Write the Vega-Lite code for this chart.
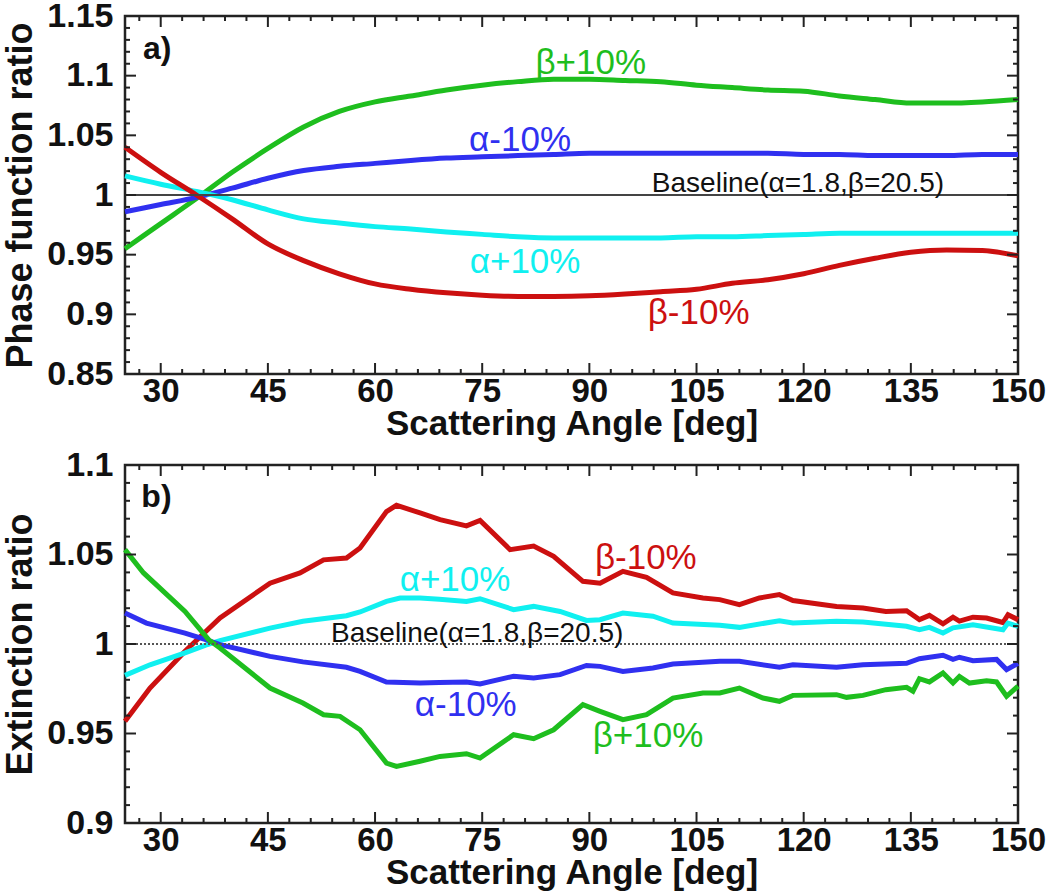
{
  "$schema": "https://vega.github.io/schema/vega-lite/v6.json",
  "padding": {"left": 1, "top": -3, "right": 0, "bottom": 0},
  "spacing": 91,
  "bounds": "flush",
  "config": {
    "view": {"stroke": "#222", "strokeWidth": 2.5},
    "font": "Liberation Sans",
    "axis": {
      "labelFont": "Liberation Sans", "titleFont": "Liberation Sans",
      "labelFontWeight": "bold", "titleFontWeight": "bold",
      "labelColor": "#111", "titleColor": "#111",
      "labelFontSize": 34, "titleFontSize": 36,
      "grid": false, "domain": false, "ticks": false
    },
    "axisX": {"labelFontSize": 33, "titleFontSize": 35}
  },
  "datasets": {
    "xticks": [
      {"angle": 27, "kind": "minor"}, {"angle": 30, "kind": "major"}, {"angle": 33, "kind": "minor"}, {"angle": 36, "kind": "minor"}, {"angle": 39, "kind": "minor"}, {"angle": 42, "kind": "minor"}, {"angle": 45, "kind": "major"}, {"angle": 48, "kind": "minor"}, {"angle": 51, "kind": "minor"}, {"angle": 54, "kind": "minor"}, {"angle": 57, "kind": "minor"}, {"angle": 60, "kind": "major"}, {"angle": 63, "kind": "minor"}, {"angle": 66, "kind": "minor"}, {"angle": 69, "kind": "minor"}, {"angle": 72, "kind": "minor"}, {"angle": 75, "kind": "major"}, {"angle": 78, "kind": "minor"}, {"angle": 81, "kind": "minor"}, {"angle": 84, "kind": "minor"}, {"angle": 87, "kind": "minor"}, {"angle": 90, "kind": "major"}, {"angle": 93, "kind": "minor"}, {"angle": 96, "kind": "minor"}, {"angle": 99, "kind": "minor"}, {"angle": 102, "kind": "minor"}, {"angle": 105, "kind": "major"}, {"angle": 108, "kind": "minor"}, {"angle": 111, "kind": "minor"}, {"angle": 114, "kind": "minor"}, {"angle": 117, "kind": "minor"}, {"angle": 120, "kind": "major"}, {"angle": 123, "kind": "minor"}, {"angle": 126, "kind": "minor"}, {"angle": 129, "kind": "minor"}, {"angle": 132, "kind": "minor"}, {"angle": 135, "kind": "major"}, {"angle": 138, "kind": "minor"}, {"angle": 141, "kind": "minor"}, {"angle": 144, "kind": "minor"}, {"angle": 147, "kind": "minor"}
    ],
    "phaseYticks": [
      {"ratio": 0.86, "kind": "minor"}, {"ratio": 0.87, "kind": "minor"}, {"ratio": 0.88, "kind": "minor"}, {"ratio": 0.89, "kind": "minor"}, {"ratio": 0.9, "kind": "major"}, {"ratio": 0.91, "kind": "minor"}, {"ratio": 0.92, "kind": "minor"}, {"ratio": 0.93, "kind": "minor"}, {"ratio": 0.94, "kind": "minor"}, {"ratio": 0.95, "kind": "major"}, {"ratio": 0.96, "kind": "minor"}, {"ratio": 0.97, "kind": "minor"}, {"ratio": 0.98, "kind": "minor"}, {"ratio": 0.99, "kind": "minor"}, {"ratio": 1.0, "kind": "major"}, {"ratio": 1.01, "kind": "minor"}, {"ratio": 1.02, "kind": "minor"}, {"ratio": 1.03, "kind": "minor"}, {"ratio": 1.04, "kind": "minor"}, {"ratio": 1.05, "kind": "major"}, {"ratio": 1.06, "kind": "minor"}, {"ratio": 1.07, "kind": "minor"}, {"ratio": 1.08, "kind": "minor"}, {"ratio": 1.09, "kind": "minor"}, {"ratio": 1.1, "kind": "major"}, {"ratio": 1.11, "kind": "minor"}, {"ratio": 1.12, "kind": "minor"}, {"ratio": 1.13, "kind": "minor"}, {"ratio": 1.14, "kind": "minor"}
    ],
    "extYticks": [
      {"ratio": 0.91, "kind": "minor"}, {"ratio": 0.92, "kind": "minor"}, {"ratio": 0.93, "kind": "minor"}, {"ratio": 0.94, "kind": "minor"}, {"ratio": 0.95, "kind": "major"}, {"ratio": 0.96, "kind": "minor"}, {"ratio": 0.97, "kind": "minor"}, {"ratio": 0.98, "kind": "minor"}, {"ratio": 0.99, "kind": "minor"}, {"ratio": 1.0, "kind": "major"}, {"ratio": 1.01, "kind": "minor"}, {"ratio": 1.02, "kind": "minor"}, {"ratio": 1.03, "kind": "minor"}, {"ratio": 1.04, "kind": "minor"}, {"ratio": 1.05, "kind": "major"}, {"ratio": 1.06, "kind": "minor"}, {"ratio": 1.07, "kind": "minor"}, {"ratio": 1.08, "kind": "minor"}, {"ratio": 1.09, "kind": "minor"}
    ],
    "phase": [
      {"series": "β+10%", "angle": 25, "ratio": 0.955}, {"series": "β+10%", "angle": 30, "ratio": 0.976}, {"series": "β+10%", "angle": 35, "ratio": 0.997}, {"series": "β+10%", "angle": 40, "ratio": 1.019}, {"series": "β+10%", "angle": 45, "ratio": 1.039}, {"series": "β+10%", "angle": 50, "ratio": 1.057}, {"series": "β+10%", "angle": 55, "ratio": 1.070}, {"series": "β+10%", "angle": 60, "ratio": 1.078}, {"series": "β+10%", "angle": 65, "ratio": 1.083}, {"series": "β+10%", "angle": 70, "ratio": 1.088}, {"series": "β+10%", "angle": 75, "ratio": 1.092}, {"series": "β+10%", "angle": 80, "ratio": 1.095}, {"series": "β+10%", "angle": 85, "ratio": 1.097}, {"series": "β+10%", "angle": 90, "ratio": 1.097}, {"series": "β+10%", "angle": 95, "ratio": 1.096}, {"series": "β+10%", "angle": 100, "ratio": 1.095}, {"series": "β+10%", "angle": 105, "ratio": 1.092}, {"series": "β+10%", "angle": 110, "ratio": 1.090}, {"series": "β+10%", "angle": 115, "ratio": 1.088}, {"series": "β+10%", "angle": 120, "ratio": 1.087}, {"series": "β+10%", "angle": 125, "ratio": 1.083}, {"series": "β+10%", "angle": 130, "ratio": 1.080}, {"series": "β+10%", "angle": 135, "ratio": 1.077}, {"series": "β+10%", "angle": 140, "ratio": 1.077}, {"series": "β+10%", "angle": 145, "ratio": 1.078}, {"series": "β+10%", "angle": 150, "ratio": 1.080},
      {"series": "α-10%", "angle": 25, "ratio": 0.986}, {"series": "α-10%", "angle": 30, "ratio": 0.992}, {"series": "α-10%", "angle": 35, "ratio": 0.998}, {"series": "α-10%", "angle": 40, "ratio": 1.0057}, {"series": "α-10%", "angle": 45, "ratio": 1.014}, {"series": "α-10%", "angle": 50, "ratio": 1.0205}, {"series": "α-10%", "angle": 55, "ratio": 1.024}, {"series": "α-10%", "angle": 60, "ratio": 1.0265}, {"series": "α-10%", "angle": 65, "ratio": 1.029}, {"series": "α-10%", "angle": 70, "ratio": 1.031}, {"series": "α-10%", "angle": 75, "ratio": 1.032}, {"series": "α-10%", "angle": 80, "ratio": 1.033}, {"series": "α-10%", "angle": 85, "ratio": 1.034}, {"series": "α-10%", "angle": 90, "ratio": 1.035}, {"series": "α-10%", "angle": 95, "ratio": 1.035}, {"series": "α-10%", "angle": 100, "ratio": 1.035}, {"series": "α-10%", "angle": 105, "ratio": 1.035}, {"series": "α-10%", "angle": 110, "ratio": 1.035}, {"series": "α-10%", "angle": 115, "ratio": 1.035}, {"series": "α-10%", "angle": 120, "ratio": 1.034}, {"series": "α-10%", "angle": 125, "ratio": 1.034}, {"series": "α-10%", "angle": 130, "ratio": 1.033}, {"series": "α-10%", "angle": 135, "ratio": 1.033}, {"series": "α-10%", "angle": 140, "ratio": 1.033}, {"series": "α-10%", "angle": 145, "ratio": 1.034}, {"series": "α-10%", "angle": 150, "ratio": 1.034},
      {"series": "α+10%", "angle": 25, "ratio": 1.016}, {"series": "α+10%", "angle": 30, "ratio": 1.009}, {"series": "α+10%", "angle": 35, "ratio": 1.003}, {"series": "α+10%", "angle": 40, "ratio": 0.996}, {"series": "α+10%", "angle": 45, "ratio": 0.9875}, {"series": "α+10%", "angle": 50, "ratio": 0.980}, {"series": "α+10%", "angle": 55, "ratio": 0.9765}, {"series": "α+10%", "angle": 60, "ratio": 0.9735}, {"series": "α+10%", "angle": 65, "ratio": 0.9715}, {"series": "α+10%", "angle": 70, "ratio": 0.969}, {"series": "α+10%", "angle": 75, "ratio": 0.967}, {"series": "α+10%", "angle": 80, "ratio": 0.965}, {"series": "α+10%", "angle": 85, "ratio": 0.964}, {"series": "α+10%", "angle": 90, "ratio": 0.964}, {"series": "α+10%", "angle": 95, "ratio": 0.964}, {"series": "α+10%", "angle": 100, "ratio": 0.964}, {"series": "α+10%", "angle": 105, "ratio": 0.965}, {"series": "α+10%", "angle": 110, "ratio": 0.965}, {"series": "α+10%", "angle": 115, "ratio": 0.966}, {"series": "α+10%", "angle": 120, "ratio": 0.967}, {"series": "α+10%", "angle": 125, "ratio": 0.968}, {"series": "α+10%", "angle": 130, "ratio": 0.968}, {"series": "α+10%", "angle": 135, "ratio": 0.968}, {"series": "α+10%", "angle": 140, "ratio": 0.968}, {"series": "α+10%", "angle": 145, "ratio": 0.968}, {"series": "α+10%", "angle": 150, "ratio": 0.968},
      {"series": "β-10%", "angle": 25, "ratio": 1.040}, {"series": "β-10%", "angle": 30, "ratio": 1.019}, {"series": "β-10%", "angle": 35, "ratio": 1.000}, {"series": "β-10%", "angle": 40, "ratio": 0.980}, {"series": "β-10%", "angle": 45, "ratio": 0.959}, {"series": "β-10%", "angle": 50, "ratio": 0.945}, {"series": "β-10%", "angle": 55, "ratio": 0.934}, {"series": "β-10%", "angle": 60, "ratio": 0.9255}, {"series": "β-10%", "angle": 65, "ratio": 0.921}, {"series": "β-10%", "angle": 70, "ratio": 0.918}, {"series": "β-10%", "angle": 75, "ratio": 0.916}, {"series": "β-10%", "angle": 80, "ratio": 0.915}, {"series": "β-10%", "angle": 85, "ratio": 0.915}, {"series": "β-10%", "angle": 90, "ratio": 0.9155}, {"series": "β-10%", "angle": 95, "ratio": 0.917}, {"series": "β-10%", "angle": 100, "ratio": 0.919}, {"series": "β-10%", "angle": 105, "ratio": 0.921}, {"series": "β-10%", "angle": 110, "ratio": 0.926}, {"series": "β-10%", "angle": 115, "ratio": 0.929}, {"series": "β-10%", "angle": 120, "ratio": 0.934}, {"series": "β-10%", "angle": 125, "ratio": 0.941}, {"series": "β-10%", "angle": 130, "ratio": 0.947}, {"series": "β-10%", "angle": 135, "ratio": 0.952}, {"series": "β-10%", "angle": 140, "ratio": 0.954}, {"series": "β-10%", "angle": 145, "ratio": 0.9535}, {"series": "β-10%", "angle": 150, "ratio": 0.949}
    ],
    "ext": [
      {"series": "β-10%", "angle": 25, "ratio": 0.9568}, {"series": "β-10%", "angle": 28.5, "ratio": 0.9754}, {"series": "β-10%", "angle": 33.4, "ratio": 0.996}, {"series": "β-10%", "angle": 38.3, "ratio": 1.0145}, {"series": "β-10%", "angle": 45.3, "ratio": 1.034}, {"series": "β-10%", "angle": 49.5, "ratio": 1.0397}, {"series": "β-10%", "angle": 52.8, "ratio": 1.047}, {"series": "β-10%", "angle": 56, "ratio": 1.048}, {"series": "β-10%", "angle": 57.9, "ratio": 1.0536}, {"series": "β-10%", "angle": 61.6, "ratio": 1.074}, {"series": "β-10%", "angle": 63, "ratio": 1.0775}, {"series": "β-10%", "angle": 66.3, "ratio": 1.0732}, {"series": "β-10%", "angle": 69.1, "ratio": 1.0695}, {"series": "β-10%", "angle": 72.8, "ratio": 1.066}, {"series": "β-10%", "angle": 74.7, "ratio": 1.069}, {"series": "β-10%", "angle": 78.9, "ratio": 1.0527}, {"series": "β-10%", "angle": 82.2, "ratio": 1.0547}, {"series": "β-10%", "angle": 85, "ratio": 1.049}, {"series": "β-10%", "angle": 89.1, "ratio": 1.035}, {"series": "β-10%", "angle": 91.5, "ratio": 1.034}, {"series": "β-10%", "angle": 94.7, "ratio": 1.0406}, {"series": "β-10%", "angle": 98, "ratio": 1.0372}, {"series": "β-10%", "angle": 101.7, "ratio": 1.0285}, {"series": "β-10%", "angle": 105.9, "ratio": 1.0257}, {"series": "β-10%", "angle": 108.25, "ratio": 1.0248}, {"series": "β-10%", "angle": 111, "ratio": 1.022}, {"series": "β-10%", "angle": 113.8, "ratio": 1.0257}, {"series": "β-10%", "angle": 116.6, "ratio": 1.0276}, {"series": "β-10%", "angle": 118.5, "ratio": 1.0243}, {"series": "β-10%", "angle": 124.6, "ratio": 1.021}, {"series": "β-10%", "angle": 128.3, "ratio": 1.0201}, {"series": "β-10%", "angle": 131.5, "ratio": 1.0182}, {"series": "β-10%", "angle": 134.4, "ratio": 1.0186}, {"series": "β-10%", "angle": 136.2, "ratio": 1.0136}, {"series": "β-10%", "angle": 137.6, "ratio": 1.016}, {"series": "β-10%", "angle": 139.5, "ratio": 1.0113}, {"series": "β-10%", "angle": 140.9, "ratio": 1.015}, {"series": "β-10%", "angle": 141.8, "ratio": 1.0128}, {"series": "β-10%", "angle": 143.7, "ratio": 1.015}, {"series": "β-10%", "angle": 145.6, "ratio": 1.0145}, {"series": "β-10%", "angle": 147.9, "ratio": 1.012}, {"series": "β-10%", "angle": 148.6, "ratio": 1.0164}, {"series": "β-10%", "angle": 150, "ratio": 1.0136},
      {"series": "α+10%", "angle": 25, "ratio": 0.9825}, {"series": "α+10%", "angle": 28.5, "ratio": 0.9884}, {"series": "α+10%", "angle": 33.4, "ratio": 0.995}, {"series": "α+10%", "angle": 36.3, "ratio": 0.9994}, {"series": "α+10%", "angle": 38.3, "ratio": 1.0019}, {"series": "α+10%", "angle": 45.3, "ratio": 1.0089}, {"series": "α+10%", "angle": 49.9, "ratio": 1.0127}, {"series": "α+10%", "angle": 56, "ratio": 1.0158}, {"series": "α+10%", "angle": 57.9, "ratio": 1.0179}, {"series": "α+10%", "angle": 61.6, "ratio": 1.0238}, {"series": "α+10%", "angle": 63.5, "ratio": 1.0257}, {"series": "α+10%", "angle": 66.3, "ratio": 1.0257}, {"series": "α+10%", "angle": 69, "ratio": 1.025}, {"series": "α+10%", "angle": 72.8, "ratio": 1.0238}, {"series": "α+10%", "angle": 74.7, "ratio": 1.0253}, {"series": "α+10%", "angle": 79.4, "ratio": 1.0192}, {"series": "α+10%", "angle": 82.2, "ratio": 1.021}, {"series": "α+10%", "angle": 85.9, "ratio": 1.0182}, {"series": "α+10%", "angle": 89.6, "ratio": 1.0132}, {"series": "α+10%", "angle": 91.5, "ratio": 1.0136}, {"series": "α+10%", "angle": 94.7, "ratio": 1.0173}, {"series": "α+10%", "angle": 98.9, "ratio": 1.0155}, {"series": "α+10%", "angle": 101.7, "ratio": 1.0117}, {"series": "α+10%", "angle": 108.25, "ratio": 1.0105}, {"series": "α+10%", "angle": 111, "ratio": 1.0093}, {"series": "α+10%", "angle": 116.6, "ratio": 1.013}, {"series": "α+10%", "angle": 118.5, "ratio": 1.0117}, {"series": "α+10%", "angle": 124.6, "ratio": 1.0127}, {"series": "α+10%", "angle": 128.3, "ratio": 1.0123}, {"series": "α+10%", "angle": 134.4, "ratio": 1.0099}, {"series": "α+10%", "angle": 136.2, "ratio": 1.008}, {"series": "α+10%", "angle": 137.6, "ratio": 1.0093}, {"series": "α+10%", "angle": 139.5, "ratio": 1.0061}, {"series": "α+10%", "angle": 140.9, "ratio": 1.009}, {"series": "α+10%", "angle": 143.7, "ratio": 1.0108}, {"series": "α+10%", "angle": 147.9, "ratio": 1.008}, {"series": "α+10%", "angle": 148.6, "ratio": 1.0117}, {"series": "α+10%", "angle": 150, "ratio": 1.0099},
      {"series": "α-10%", "angle": 25, "ratio": 1.0173}, {"series": "α-10%", "angle": 28, "ratio": 1.0117}, {"series": "α-10%", "angle": 33.4, "ratio": 1.0061}, {"series": "α-10%", "angle": 36.3, "ratio": 1.0024}, {"series": "α-10%", "angle": 38.3, "ratio": 0.9996}, {"series": "α-10%", "angle": 45.3, "ratio": 0.9931}, {"series": "α-10%", "angle": 49.9, "ratio": 0.990}, {"series": "α-10%", "angle": 56, "ratio": 0.987}, {"series": "α-10%", "angle": 57.9, "ratio": 0.9847}, {"series": "α-10%", "angle": 61.6, "ratio": 0.9788}, {"series": "α-10%", "angle": 66.3, "ratio": 0.9782}, {"series": "α-10%", "angle": 69, "ratio": 0.9785}, {"series": "α-10%", "angle": 72.8, "ratio": 0.9788}, {"series": "α-10%", "angle": 74.7, "ratio": 0.9777}, {"series": "α-10%", "angle": 79.4, "ratio": 0.982}, {"series": "α-10%", "angle": 82.2, "ratio": 0.981}, {"series": "α-10%", "angle": 85.9, "ratio": 0.9829}, {"series": "α-10%", "angle": 89.6, "ratio": 0.988}, {"series": "α-10%", "angle": 91.5, "ratio": 0.9875}, {"series": "α-10%", "angle": 94.7, "ratio": 0.9847}, {"series": "α-10%", "angle": 98.9, "ratio": 0.9866}, {"series": "α-10%", "angle": 101.7, "ratio": 0.9888}, {"series": "α-10%", "angle": 108.25, "ratio": 0.9903}, {"series": "α-10%", "angle": 111, "ratio": 0.9903}, {"series": "α-10%", "angle": 116.6, "ratio": 0.987}, {"series": "α-10%", "angle": 118.5, "ratio": 0.9884}, {"series": "α-10%", "angle": 124.6, "ratio": 0.987}, {"series": "α-10%", "angle": 128.3, "ratio": 0.9884}, {"series": "α-10%", "angle": 134.4, "ratio": 0.9892}, {"series": "α-10%", "angle": 136.2, "ratio": 0.9918}, {"series": "α-10%", "angle": 139.5, "ratio": 0.9937}, {"series": "α-10%", "angle": 140.9, "ratio": 0.9914}, {"series": "α-10%", "angle": 141.8, "ratio": 0.9926}, {"series": "α-10%", "angle": 143.7, "ratio": 0.9907}, {"series": "α-10%", "angle": 147, "ratio": 0.9914}, {"series": "α-10%", "angle": 148.4, "ratio": 0.9857}, {"series": "α-10%", "angle": 150, "ratio": 0.9892},
      {"series": "β+10%", "angle": 25, "ratio": 1.0527}, {"series": "β+10%", "angle": 27.6, "ratio": 1.0397}, {"series": "β+10%", "angle": 33.4, "ratio": 1.0182}, {"series": "β+10%", "angle": 36.7, "ratio": 1.0024}, {"series": "β+10%", "angle": 38.3, "ratio": 0.9978}, {"series": "β+10%", "angle": 45.3, "ratio": 0.9754}, {"series": "β+10%", "angle": 49.9, "ratio": 0.967}, {"series": "β+10%", "angle": 52.8, "ratio": 0.9605}, {"series": "β+10%", "angle": 55.1, "ratio": 0.9596}, {"series": "β+10%", "angle": 57.9, "ratio": 0.9521}, {"series": "β+10%", "angle": 61.6, "ratio": 0.9335}, {"series": "β+10%", "angle": 63, "ratio": 0.9316}, {"series": "β+10%", "angle": 66.3, "ratio": 0.9345}, {"series": "β+10%", "angle": 69.1, "ratio": 0.9372}, {"series": "β+10%", "angle": 72.8, "ratio": 0.9387}, {"series": "β+10%", "angle": 74.7, "ratio": 0.9363}, {"series": "β+10%", "angle": 79.4, "ratio": 0.9493}, {"series": "β+10%", "angle": 82.2, "ratio": 0.9471}, {"series": "β+10%", "angle": 85, "ratio": 0.9521}, {"series": "β+10%", "angle": 89.1, "ratio": 0.9661}, {"series": "β+10%", "angle": 91.5, "ratio": 0.9624}, {"series": "β+10%", "angle": 94.7, "ratio": 0.9577}, {"series": "β+10%", "angle": 98, "ratio": 0.9605}, {"series": "β+10%", "angle": 101.7, "ratio": 0.9698}, {"series": "β+10%", "angle": 105.9, "ratio": 0.9726}, {"series": "β+10%", "angle": 108.25, "ratio": 0.9726}, {"series": "β+10%", "angle": 111, "ratio": 0.9754}, {"series": "β+10%", "angle": 114.3, "ratio": 0.9698}, {"series": "β+10%", "angle": 116.6, "ratio": 0.968}, {"series": "β+10%", "angle": 118.5, "ratio": 0.9713}, {"series": "β+10%", "angle": 124.6, "ratio": 0.9717}, {"series": "β+10%", "angle": 126, "ratio": 0.9702}, {"series": "β+10%", "angle": 128.3, "ratio": 0.9713}, {"series": "β+10%", "angle": 131.5, "ratio": 0.9745}, {"series": "β+10%", "angle": 134.4, "ratio": 0.9758}, {"series": "β+10%", "angle": 135.3, "ratio": 0.9736}, {"series": "β+10%", "angle": 136.2, "ratio": 0.9806}, {"series": "β+10%", "angle": 137.6, "ratio": 0.9788}, {"series": "β+10%", "angle": 139.5, "ratio": 0.9838}, {"series": "β+10%", "angle": 140.9, "ratio": 0.9782}, {"series": "β+10%", "angle": 141.8, "ratio": 0.9819}, {"series": "β+10%", "angle": 143.2, "ratio": 0.9782}, {"series": "β+10%", "angle": 145.6, "ratio": 0.9795}, {"series": "β+10%", "angle": 147, "ratio": 0.9788}, {"series": "β+10%", "angle": 148.4, "ratio": 0.9708}, {"series": "β+10%", "angle": 150, "ratio": 0.9764}
    ],
    "phaseLabels": [
      {"series": "β+10%", "angle": 90.2, "ratio": 1.111},
      {"series": "α-10%", "angle": 80.3, "ratio": 1.046},
      {"series": "α+10%", "angle": 81, "ratio": 0.944},
      {"series": "β-10%", "angle": 105.3, "ratio": 0.901}
    ],
    "extLabels": [
      {"series": "β-10%", "angle": 97.9, "ratio": 1.048},
      {"series": "α+10%", "angle": 71.2, "ratio": 1.0357},
      {"series": "α-10%", "angle": 72.7, "ratio": 0.966},
      {"series": "β+10%", "angle": 98.2, "ratio": 0.9486}
    ],
    "phaseNotes": [
      {"kind": "panel", "text": "a)", "angle": 29.5, "ratio": 1.122},
      {"kind": "baseline", "text": "Baseline(α=1.8,β=20.5)", "angle": 119.2, "ratio": 1.0025}
    ],
    "extNotes": [
      {"kind": "panel", "text": "b)", "angle": 29.4, "ratio": 1.082},
      {"kind": "baseline", "text": "Baseline(α=1.8,β=20.5)", "angle": 74.3, "ratio": 1.0012}
    ]
  },
  "vconcat": [
    {
      "width": 893, "height": 358,
      "layer": [
        {
          "data": {"name": "phase"},
          "mark": {"type": "line", "strokeWidth": 5, "interpolate": "monotone"},
          "encoding": {
            "x": {"field": "angle", "type": "quantitative", "scale": {"domain": [25, 150], "nice": false, "zero": false},
              "axis": {"orient": "bottom", "values": [30, 45, 60, 75, 90, 105, 120, 135, 150], "format": "d", "labelPadding": 1, "title": "Scattering Angle [deg]", "titlePadding": -2, "labelOverlap": false, "labelFlush": false}},
            "y": {"field": "ratio", "type": "quantitative", "scale": {"domain": [0.85, 1.15], "nice": false, "zero": false},
              "axis": {"orient": "left", "values": [0.85, 0.9, 0.95, 1, 1.05, 1.1, 1.15], "format": "~g", "labelPadding": 12, "title": "Phase function ratio", "titlePadding": 7, "labelOverlap": false, "labelFlush": false}},
            "color": {"field": "series", "type": "nominal", "scale": {"domain": ["β+10%", "α-10%", "α+10%", "β-10%"], "range": ["#1ebe1e", "#3030f0", "#10f0f0", "#cc1010"]}, "legend": null}
          }
        },
        {
          "data": {"values": [{"ratio": 1}]},
          "mark": {"type": "rule", "color": "#444", "strokeWidth": 2},
          "encoding": {"y": {"field": "ratio", "type": "quantitative"}}
        },
        {
          "data": {"name": "xticks"},
          "mark": {"type": "tick", "orient": "vertical", "clip": true, "color": "#222", "opacity": 1, "thickness": 2},
          "encoding": {
            "x": {"field": "angle", "type": "quantitative"},
            "y": {"datum": 0.85, "type": "quantitative"},
            "size": {"field": "kind", "type": "nominal", "scale": {"domain": ["major", "minor"], "range": [22, 10]}, "legend": null}
          }
        },
        {
          "data": {"name": "xticks"},
          "mark": {"type": "tick", "orient": "vertical", "clip": true, "color": "#222", "opacity": 1, "thickness": 2},
          "encoding": {
            "x": {"field": "angle", "type": "quantitative"},
            "y": {"datum": 1.15, "type": "quantitative"},
            "size": {"field": "kind", "type": "nominal", "scale": {"domain": ["major", "minor"], "range": [22, 10]}, "legend": null}
          }
        },
        {
          "data": {"name": "phaseYticks"},
          "mark": {"type": "tick", "orient": "horizontal", "clip": true, "color": "#222", "opacity": 1, "thickness": 2},
          "encoding": {
            "y": {"field": "ratio", "type": "quantitative"},
            "x": {"datum": 25, "type": "quantitative"},
            "size": {"field": "kind", "type": "nominal", "scale": {"domain": ["major", "minor"], "range": [22, 10]}, "legend": null}
          }
        },
        {
          "data": {"name": "phaseYticks"},
          "mark": {"type": "tick", "orient": "horizontal", "clip": true, "color": "#222", "opacity": 1, "thickness": 2},
          "encoding": {
            "y": {"field": "ratio", "type": "quantitative"},
            "x": {"datum": 150, "type": "quantitative"},
            "size": {"field": "kind", "type": "nominal", "scale": {"domain": ["major", "minor"], "range": [22, 10]}, "legend": null}
          }
        },
        {
          "data": {"name": "phaseLabels"},
          "mark": {"type": "text", "font": "Liberation Sans", "fontSize": 35, "align": "center", "baseline": "middle"},
          "encoding": {
            "x": {"field": "angle", "type": "quantitative"},
            "y": {"field": "ratio", "type": "quantitative"},
            "text": {"field": "series"},
            "color": {"field": "series", "type": "nominal", "legend": null}
          }
        },
        {
          "data": {"name": "phaseNotes"},
          "transform": [{"filter": "datum.kind === 'panel'"}],
          "mark": {"type": "text", "font": "Liberation Sans", "fontWeight": "bold", "fontSize": 32, "align": "center", "baseline": "middle", "color": "#111"},
          "encoding": {
            "x": {"field": "angle", "type": "quantitative"},
            "y": {"field": "ratio", "type": "quantitative"},
            "text": {"field": "text"}
          }
        },
        {
          "data": {"name": "phaseNotes"},
          "transform": [{"filter": "datum.kind === 'baseline'"}],
          "mark": {"type": "text", "font": "Liberation Sans", "fontSize": 28, "align": "center", "baseline": "alphabetic", "color": "#111"},
          "encoding": {
            "x": {"field": "angle", "type": "quantitative"},
            "y": {"field": "ratio", "type": "quantitative"},
            "text": {"field": "text"}
          }
        }
      ]
    },
    {
      "width": 893, "height": 358,
      "layer": [
        {
          "data": {"name": "ext"},
          "mark": {"type": "line", "strokeWidth": 5},
          "encoding": {
            "x": {"field": "angle", "type": "quantitative", "scale": {"domain": [25, 150], "nice": false, "zero": false},
              "axis": {"orient": "bottom", "values": [30, 45, 60, 75, 90, 105, 120, 135, 150], "format": "d", "labelPadding": 1, "title": "Scattering Angle [deg]", "titlePadding": -2, "labelOverlap": false, "labelFlush": false}},
            "y": {"field": "ratio", "type": "quantitative", "scale": {"domain": [0.9, 1.1], "nice": false, "zero": false},
              "axis": {"orient": "left", "values": [0.9, 0.95, 1, 1.05, 1.1], "format": "~g", "labelPadding": 12, "title": "Extinction ratio", "titlePadding": 7, "labelOverlap": false, "labelFlush": false}},
            "color": {"field": "series", "type": "nominal", "scale": {"domain": ["β+10%", "α-10%", "α+10%", "β-10%"], "range": ["#1ebe1e", "#3030f0", "#10f0f0", "#cc1010"]}, "legend": null}
          }
        },
        {
          "data": {"values": [{"ratio": 1}]},
          "mark": {"type": "rule", "color": "#555", "strokeWidth": 2, "strokeDash": [2, 2]},
          "encoding": {"y": {"field": "ratio", "type": "quantitative"}}
        },
        {
          "data": {"name": "xticks"},
          "mark": {"type": "tick", "orient": "vertical", "clip": true, "color": "#222", "opacity": 1, "thickness": 2},
          "encoding": {
            "x": {"field": "angle", "type": "quantitative"},
            "y": {"datum": 0.9, "type": "quantitative"},
            "size": {"field": "kind", "type": "nominal", "scale": {"domain": ["major", "minor"], "range": [22, 10]}, "legend": null}
          }
        },
        {
          "data": {"name": "xticks"},
          "mark": {"type": "tick", "orient": "vertical", "clip": true, "color": "#222", "opacity": 1, "thickness": 2},
          "encoding": {
            "x": {"field": "angle", "type": "quantitative"},
            "y": {"datum": 1.1, "type": "quantitative"},
            "size": {"field": "kind", "type": "nominal", "scale": {"domain": ["major", "minor"], "range": [22, 10]}, "legend": null}
          }
        },
        {
          "data": {"name": "extYticks"},
          "mark": {"type": "tick", "orient": "horizontal", "clip": true, "color": "#222", "opacity": 1, "thickness": 2},
          "encoding": {
            "y": {"field": "ratio", "type": "quantitative"},
            "x": {"datum": 25, "type": "quantitative"},
            "size": {"field": "kind", "type": "nominal", "scale": {"domain": ["major", "minor"], "range": [22, 10]}, "legend": null}
          }
        },
        {
          "data": {"name": "extYticks"},
          "mark": {"type": "tick", "orient": "horizontal", "clip": true, "color": "#222", "opacity": 1, "thickness": 2},
          "encoding": {
            "y": {"field": "ratio", "type": "quantitative"},
            "x": {"datum": 150, "type": "quantitative"},
            "size": {"field": "kind", "type": "nominal", "scale": {"domain": ["major", "minor"], "range": [22, 10]}, "legend": null}
          }
        },
        {
          "data": {"name": "extLabels"},
          "mark": {"type": "text", "font": "Liberation Sans", "fontSize": 35, "align": "center", "baseline": "middle"},
          "encoding": {
            "x": {"field": "angle", "type": "quantitative"},
            "y": {"field": "ratio", "type": "quantitative"},
            "text": {"field": "series"},
            "color": {"field": "series", "type": "nominal", "legend": null}
          }
        },
        {
          "data": {"name": "extNotes"},
          "transform": [{"filter": "datum.kind === 'panel'"}],
          "mark": {"type": "text", "font": "Liberation Sans", "fontWeight": "bold", "fontSize": 32, "align": "center", "baseline": "middle", "color": "#111"},
          "encoding": {
            "x": {"field": "angle", "type": "quantitative"},
            "y": {"field": "ratio", "type": "quantitative"},
            "text": {"field": "text"}
          }
        },
        {
          "data": {"name": "extNotes"},
          "transform": [{"filter": "datum.kind === 'baseline'"}],
          "mark": {"type": "text", "font": "Liberation Sans", "fontSize": 28, "align": "center", "baseline": "alphabetic", "color": "#111"},
          "encoding": {
            "x": {"field": "angle", "type": "quantitative"},
            "y": {"field": "ratio", "type": "quantitative"},
            "text": {"field": "text"}
          }
        }
      ]
    }
  ]
}
